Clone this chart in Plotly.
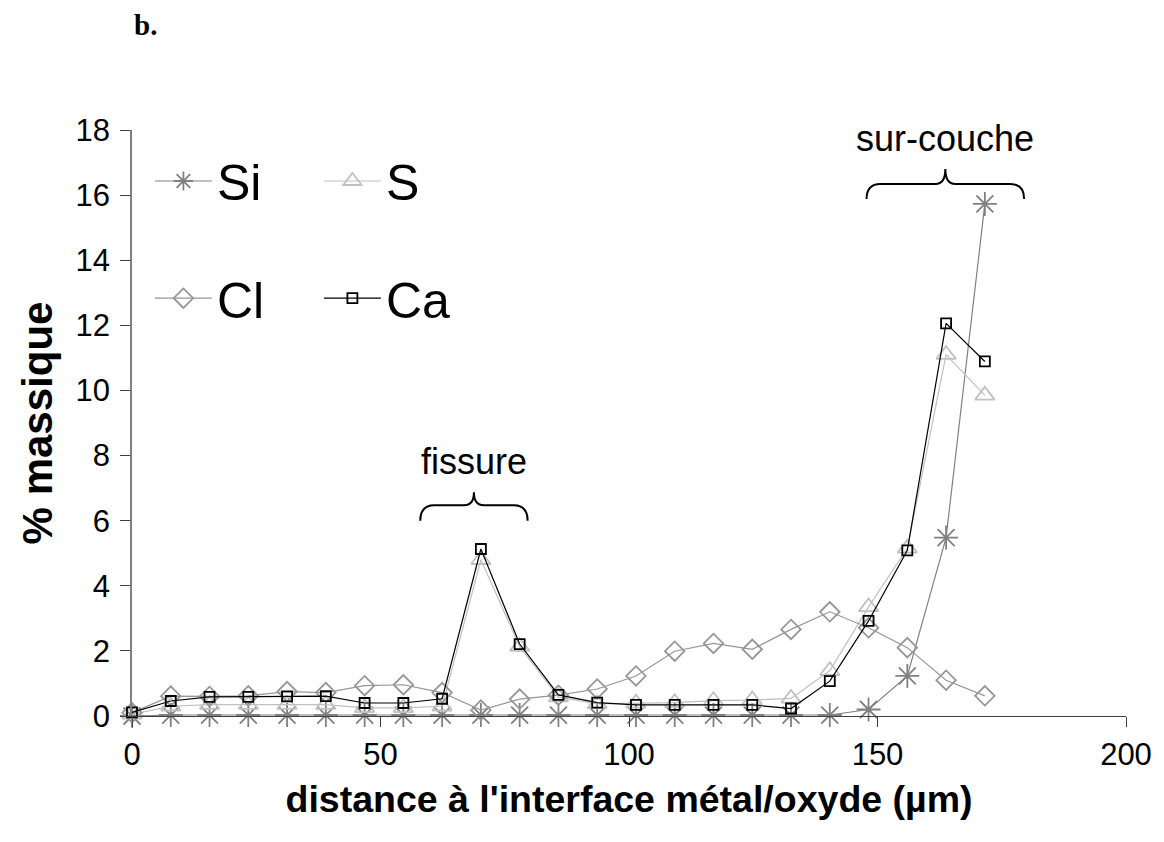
import plotly.graph_objects as go

# distance from the metal/oxide interface (µm)
distance = [0, 7.8, 15.6, 23.4, 31.2, 39.0, 46.8, 54.6, 62.4, 70.2, 78.0, 85.8,
            93.6, 101.4, 109.2, 117.0, 124.8, 132.6, 140.4, 148.2, 156.0, 163.8, 171.6]

# mass percentages per element
si = [0.0, 0.03, 0.03, 0.03, 0.03, 0.03, 0.03, 0.03, 0.03, 0.03, 0.03, 0.03,
      0.03, 0.03, 0.03, 0.03, 0.03, 0.03, 0.03, 0.2, 1.23, 5.48, 15.73]
s = [0.05, 0.3, 0.35, 0.35, 0.35, 0.35, 0.25, 0.25, 0.3, 4.8, 2.13, 0.58,
     0.37, 0.39, 0.41, 0.47, 0.49, 0.54, 1.39, 3.35, 5.15, 11.1, 9.85]
cl = [0.1, 0.61, 0.6, 0.62, 0.75, 0.72, 0.93, 0.96, 0.72, 0.18, 0.52, 0.64,
      0.83, 1.23, 1.99, 2.23, 2.05, 2.66, 3.2, 2.71, 2.1, 1.1, 0.62]
ca = [0.11, 0.46, 0.59, 0.59, 0.6, 0.61, 0.4, 0.4, 0.53, 5.13, 2.21, 0.65,
      0.41, 0.34, 0.34, 0.34, 0.34, 0.23, 1.07, 2.92, 5.09, 12.06, 10.89]

x_ticks = [0, 50, 100, 150, 200]
y_ticks = [0, 2, 4, 6, 8, 10, 12, 14, 16, 18]

# bracket annotations: (label, x start, x end, base y, shoulder y, tip y)
brackets = [
    ("fissure", 58.0, 79.6, 6.0, 6.47, 6.87),
    ("sur-couche", 147.8, 179.5, 15.88, 16.34, 16.8),
]

FONT = "Liberation Sans, Arial, sans-serif"

series = [
    ("Si", si, "#808080", "asterisk-open", 20, "legend"),
    ("S", s, "#c0c0c0", "triangle-up-open", 17, "legend"),
    ("Cl", cl, "#969696", "diamond-open", 15, "legend2"),
    ("Ca", ca, "#000000", "square-open", 10, "legend2"),
]

fig = go.Figure()
for name, vals, color, symbol, size, leg in series:
    fig.add_trace(go.Scatter(
        x=distance, y=vals, name=name, mode="lines+markers",
        line=dict(color=color, width=1.2),
        marker=dict(symbol=symbol, size=size, color=color,
                    line=dict(color=color, width=1.8)),
        cliponaxis=False, legend=leg,
    ))


def brace_path(x0, x1, yb, yh, yp, r_out=2.8, r_in=2.0):
    xm = (x0 + x1) / 2
    return (f"M{x0},{yb} Q{x0},{yh} {x0 + r_out},{yh} "
            f"L{xm - r_in},{yh} Q{xm},{yh} {xm},{yp} "
            f"Q{xm},{yh} {xm + r_in},{yh} "
            f"L{x1 - r_out},{yh} Q{x1},{yh} {x1},{yb}")


for label, x0, x1, yb, yh, yp in brackets:
    fig.add_shape(type="path", xref="x", yref="y",
                  path=brace_path(x0, x1, yb, yh, yp),
                  line=dict(color="black", width=2))
    fig.add_annotation(x=(x0 + x1) / 2, y=yp + 0.95, xref="x", yref="y",
                       text=label, showarrow=False,
                       font=dict(family=FONT, size=36, color="black"),
                       xanchor="center", yanchor="middle")

fig.add_annotation(x=0.014, y=1.179, xref="paper", yref="paper", text="<b>b.</b>",
                   showarrow=False, font=dict(family="Liberation Serif, Times New Roman, serif",
                                              size=29, color="black"),
                   xanchor="center", yanchor="middle")

legend_common = dict(orientation="h", font=dict(family=FONT, size=50, color="black"),
                     bgcolor="rgba(0,0,0,0)", entrywidth=97, entrywidthmode="pixels",
                     itemwidth=57, xanchor="left", yanchor="middle",
                     xref="paper", yref="paper")

fig.update_layout(
    width=1164, height=842,
    margin=dict(l=132, r=29, t=130, b=126),
    paper_bgcolor="white", plot_bgcolor="white",
    showlegend=True,
    legend=dict(x=0.018, y=0.913, **legend_common),
    legend2=dict(x=0.018, y=0.713, **legend_common),
    xaxis=dict(
        range=[0, 200], tickvals=x_ticks, ticks="outside", ticklen=10,
        tickcolor="#404040", tickwidth=1,
        showline=True, linecolor="#404040", linewidth=1.2,
        showgrid=False, zeroline=False,
        tickfont=dict(family=FONT, size=31, color="black"),
        ticklabelstandoff=1,
        title=dict(text="<b>distance à l'interface métal/oxyde (µm)</b>",
                   font=dict(family=FONT, size=37.5, color="black"), standoff=14),
    ),
    yaxis=dict(
        range=[0, 18], tickvals=y_ticks, ticks="outside", ticklen=10,
        tickcolor="#404040", tickwidth=1,
        showline=True, linecolor="#808080", linewidth=1.5,
        showgrid=False, zeroline=False,
        tickfont=dict(family=FONT, size=31, color="black"),
        ticklabelstandoff=4,
        title=dict(text="<b>% massique</b>",
                   font=dict(family=FONT, size=42, color="black"), standoff=10),
    ),
)

fig.write_html("out.html")
